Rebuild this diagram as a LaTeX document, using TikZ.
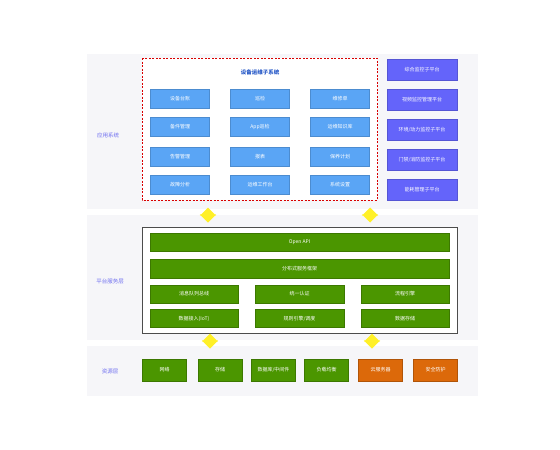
\documentclass[tikz,border=0pt]{standalone}
\usepackage{fontspec}
\newfontfamily\cjk{Noto Sans CJK SC}
\usetikzlibrary{shapes.arrows}

\begin{document}
\begin{tikzpicture}[
  x=1pt, y=-1pt,
  font=\cjk\fontsize{5}{6}\selectfont,
  band/.style={fill=cBand, draw=none},
  tag/.style={text=cTag, font=\cjk\fontsize{5.5}{6.5}\selectfont},
  appbox/.style={
    fill=cApp, draw=cApp!85!black, line width=0.3pt, text=white,
    minimum width=59pt, minimum height=19pt, inner sep=0pt
  },
  subbox/.style={
    fill=cSub, draw=cSub!85!black, line width=0.3pt, text=white,
    minimum width=70pt, minimum height=21pt, inner sep=0pt
  },
  svcbox/.style={
    fill=cSvc, draw=cSvc!80!black, line width=0.3pt, text=white,
    minimum height=18pt, inner sep=0pt
  },
  resbox/.style={
    draw=#1!80!black, fill=#1, line width=0.3pt, text=white,
    minimum width=44pt, minimum height=22pt, inner sep=0pt
  },
  flow/.style={
    double arrow, shape border rotate=90, fill=cFlow, draw=none,
    minimum height=15pt, minimum width=14pt, double arrow head extend=8pt,
    inner sep=0pt
  }
]

  % Colors
  \definecolor{cBand}{RGB}{246,246,249}  % Layer background
  \definecolor{cTag}{RGB}{110,110,240}   % Layer names
  \definecolor{cTitle}{RGB}{40,90,200}   % Subsystem title
  \definecolor{cApp}{RGB}{90,165,245}    % Light Blue
  \definecolor{cSub}{RGB}{100,100,250}   % Purple
  \definecolor{cSvc}{RGB}{75,150,0}      % Green
  \definecolor{cRes}{RGB}{220,105,10}    % Orange
  \definecolor{cFlow}{RGB}{255,240,40}   % Yellow

  \useasboundingbox (0,0) rectangle (560,450);

  % --- LAYER BANDS ---
  \fill[band] (87,54) rectangle (478,209);
  \fill[band] (87,215) rectangle (478,340);
  \fill[band] (87,346) rectangle (478,396);

  \node[tag] (tagApp) at (108,135) {应用系统};
  \node[tag] (tagSvc) at (110,281) {平台服务层};
  \node[tag] (tagRes) at (110,371) {资源层};

  % --- APPLICATION LAYER ---
  \draw[red!85!black, dash pattern=on 2pt off 1.5pt, line width=0.8pt, fill=white] (142,58) rectangle (377,200);
  \node[text=cTitle, font=\cjk\bfseries\fontsize{5.5}{6.5}\selectfont] (title) at (260,72) {设备运维子系统};

  % Row 1
  \node[appbox] (a11) at (180,98.5) {设备台账};
  \node[appbox] (a12) at (260,98.5) {巡检};
  \node[appbox] (a13) at (340,98.5) {维修单};
  % Row 2
  \node[appbox] (a21) at (180,127) {备件管理};
  \node[appbox] (a22) at (260,127) {App巡检};
  \node[appbox] (a23) at (340,127) {运维知识库};
  % Row 3
  \node[appbox] (a31) at (180,157) {告警管理};
  \node[appbox] (a32) at (260,157) {报表};
  \node[appbox] (a33) at (340,157) {保养计划};
  % Row 4
  \node[appbox] (a41) at (180,185) {故障分析};
  \node[appbox] (a42) at (260,185) {运维工作台};
  \node[appbox] (a43) at (340,185) {系统设置};

  % Side platforms
  \node[subbox] (s1) at (422,69.5) {综合监控子平台};
  \node[subbox] (s2) at (422,99.5) {视频监控管理平台};
  \node[subbox] (s3) at (422,130) {环境/动力监控子平台};
  \node[subbox] (s4) at (422,160) {门禁/消防监控子平台};
  \node[subbox] (s5) at (422,190) {能耗管理子平台};

  % --- SERVICE LAYER ---
  \draw[gray!60!black, line width=0.6pt, fill=white] (142,227) rectangle (457,333);

  \node[svcbox, minimum width=299pt] (api) at (299.5,242) {Open API};
  \node[svcbox, minimum width=299pt, minimum height=19pt] (frame) at (299.5,268.5) {分布式服务框架};

  \node[svcbox, minimum width=88pt] (m31) at (194,294) {消息队列总线};
  \node[svcbox, minimum width=89pt] (m32) at (299.5,294) {统一认证};
  \node[svcbox, minimum width=88pt] (m33) at (405,294) {流程引擎};
  \node[svcbox, minimum width=88pt] (m41) at (194,318.5) {数据接入(IoT)};
  \node[svcbox, minimum width=89pt] (m42) at (299.5,318.5) {规则引擎/调度};
  \node[svcbox, minimum width=88pt] (m43) at (405,318.5) {数据存储};

  % --- RESOURCE LAYER ---
  \node[resbox=cSvc] (r1) at (164.5,370) {网络};
  \node[resbox=cSvc] (r2) at (220,370) {存储};
  \node[resbox=cSvc] (r3) at (273.5,370) {数据库/中间件};
  \node[resbox=cSvc] (r4) at (326.5,370) {负载均衡};
  \node[resbox=cRes] (r5) at (380.5,370) {云服务器};
  \node[resbox=cRes] (r6) at (435.5,370) {安全防护};

  % --- FLOW ARROWS ---
  \node[flow] (f1) at (208,215) {};
  \node[flow] (f2) at (370,215) {};
  \node[flow] (f3) at (210,341) {};
  \node[flow] (f4) at (372,341) {};

\end{tikzpicture}
\end{document}
